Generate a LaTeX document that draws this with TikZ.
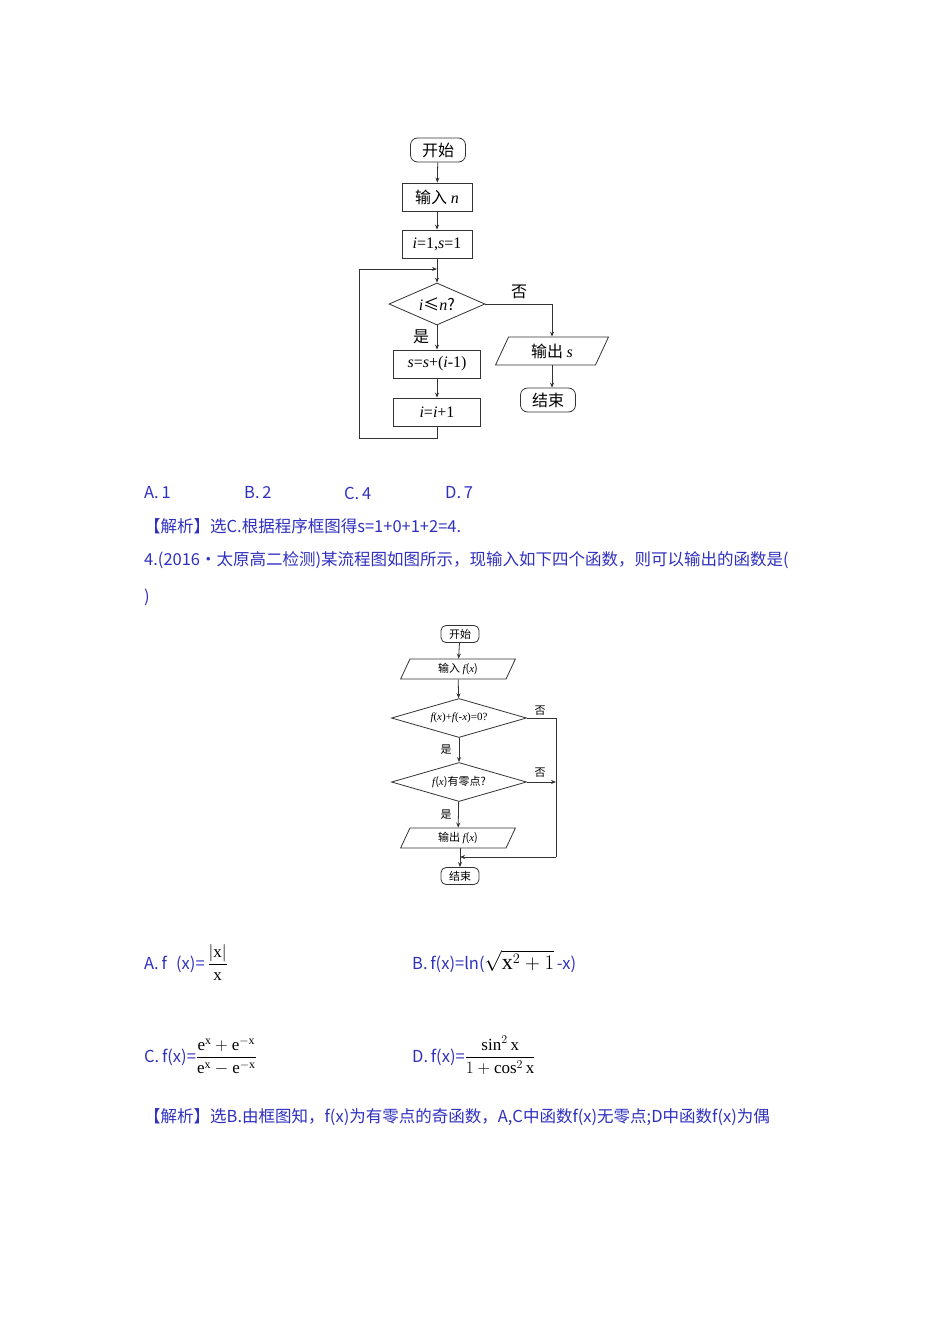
\documentclass[tikz,border=0pt]{standalone}
\usepackage{fontspec}
\usepackage{amsmath}
\setmainfont{Liberation Serif}
\newfontfamily\cjk{Noto Sans CJK SC}
\newfontfamily\lat{Liberation Serif}
\newcommand{\vi}[1]{{\lat\itshape #1}}
\usetikzlibrary{shapes.geometric,arrows.meta}
\definecolor{txtblue}{HTML}{3030C0}
\begin{document}
\begin{tikzpicture}[x=1pt,y=-1pt,
  every node/.style={inner sep=0pt},
  ln/.style={draw=black!80,line width=0.8pt},
  arr/.style={ln,-{Stealth[length=5pt,width=4pt]}},
  term/.style={ln,rounded corners=7pt,minimum width=55pt,minimum height=24pt,font=\cjk\fontsize{16}{16}\selectfont},
  proc/.style={ln,minimum width=#1,minimum height=28pt,font=\cjk\fontsize{16}{16}\selectfont},
  dec/.style={ln,diamond,aspect=2.3,minimum width=96pt,minimum height=42pt,font=\cjk\fontsize{16}{16}\selectfont},
  io/.style={ln,trapezium,trapezium left angle=65,trapezium right angle=115,minimum height=28pt,inner xsep=2pt,font=\cjk\fontsize{16}{16}\selectfont},
  sterm/.style={ln,rounded corners=5pt,minimum width=38pt,minimum height=17pt,font=\cjk\fontsize{11}{11}\selectfont},
  sio/.style={ln,trapezium,trapezium left angle=65,trapezium right angle=115,minimum height=20pt,inner xsep=8pt,font=\cjk\fontsize{11}{11}\selectfont},
  sdec/.style={ln,diamond,aspect=3.4,minimum width=135pt,minimum height=39pt,font=\cjk\fontsize{11}{11}\selectfont},
  lab/.style={font=\cjk\fontsize{16}{16}\selectfont},
  slab/.style={font=\cjk\fontsize{11}{11}\selectfont},
  body/.style={anchor=west,text=txtblue,font=\cjk\fontsize{16.5}{16.5}\selectfont}]
\useasboundingbox[fill=white] (0,0) rectangle (950,1344);
% flowchart 1
\node[term] (s1) at (438,150) {开始};
\node[proc=70pt] (in1) at (437,197) {输入 \vi{n}};
\node[proc=70pt] (init) at (437,244) {\lat\fontsize{16}{16}\selectfont\textit{i}=1,\textit{s}=1};
\coordinate (j1) at (437,269);
\node[dec] (d1) at (437,304) {\vi{i}≤\vi{n}?};
\node[proc=87pt] (p1) at (437,364) {\lat\fontsize{16}{16}\selectfont\textit{s}=\textit{s}+(\textit{i}-1)};
\node[proc=87pt] (p2) at (437,412) {\lat\fontsize{16}{16}\selectfont\textit{i}=\textit{i}+1};
\node[io] (o1) at (552,351) {输出 \vi{s}};
\node[term] (e1) at (548,400) {结束};
\draw[arr] (s1) -- (in1);
\draw[arr] (in1) -- (init);
\draw[arr] (init) -- (d1);
\draw[arr] (d1) -- (p1);
\draw[arr] (p1) -- (p2);
\draw[arr] (d1.east) -| (o1.north);
\draw[arr] (o1.south) -- (o1.south |- e1.north);
\draw[arr] (p2.south) -- (437,438) -- (359,438) -- (359,269) -- (j1);
\node[lab] at (519,292) {否};
\node[lab] at (421,337) {是};
% answers
\node[body] at (144,493) {A.\,1};
\node[body] at (244,493) {B.\,2};
\node[body] at (344,493) {C.\,4};
\node[body] at (445,493) {D.\,7};
\node[body] at (144,526) {【解析】选C.根据程序框图得s=1+0+1+2=4.};
\node[body] at (144,560) {4.(2016·太原高二检测)某流程图如图所示，现输入如下四个函数，则可以输出的函数是(};
\node[body] at (144,597) {)};
% flowchart 2
\node[sterm] (s2) at (460,634) {开始};
\node[sio] (in2) at (458,669) {输入 \vi{f}(\vi{x})};
\node[sdec] (d2) at (459,718) {\lat\vi{f}(\vi{x})+\vi{f}(-\vi{x})=0?};
\node[sdec] (d3) at (459,782) {\vi{f}(\vi{x})有零点?};
\node[sio] (o2) at (458,838) {输出 \vi{f}(\vi{x})};
\node[sterm] (e2) at (460,876) {结束};
\coordinate (j2) at (460,857);
\draw[arr] (s2) -- (in2);
\draw[arr] (in2) -- (d2);
\draw[arr] (d2) -- (d3);
\draw[arr] (d3) -- (o2);
\draw[arr] (o2.south -| j2) -- (e2);
\draw[ln] (d2.east) -- (556,718) -- (556,857);
\draw[arr] (556,857) -- (j2);
\draw[arr] (d3.east) -- (556,782);
\node[slab] at (540,711) {否};
\node[slab] at (540,773) {否};
\node[slab] at (446,750) {是};
\node[slab] at (446,815) {是};
% options
\node[body,anchor=base west] at (144,969) {A.\,f\,\, (x)=\,\color{black}\fontsize{17}{17}\selectfont$\dfrac{|\mathrm{x}|}{\mathrm{x}}$};
\node[body,anchor=base west] at (412,969) {B.\,f(x)=ln(\color{black}\fontsize{22}{22}\selectfont$\sqrt{\mathrm{x}^2+1}$\color{txtblue}\fontsize{16.5}{16.5}\selectfont\,-x)};
\node[body,anchor=base west] at (144,1062) {C.\,f(x)=\color{black}\fontsize{17}{17}\selectfont$\dfrac{\mathrm{e}^{\mathrm{x}}+\mathrm{e}^{-\mathrm{x}}}{\mathrm{e}^{\mathrm{x}}-\mathrm{e}^{-\mathrm{x}}}$};
\node[body,anchor=base west] at (412,1062) {D.\,f(x)=\color{black}\fontsize{17}{17}\selectfont$\dfrac{\sin^2\mathrm{x}}{1+\cos^2\mathrm{x}}$};
\node[body] at (144,1117) {【解析】选B.由框图知，f(x)为有零点的奇函数，A,C中函数f(x)无零点;D中函数f(x)为偶};
\end{tikzpicture}
\end{document}
